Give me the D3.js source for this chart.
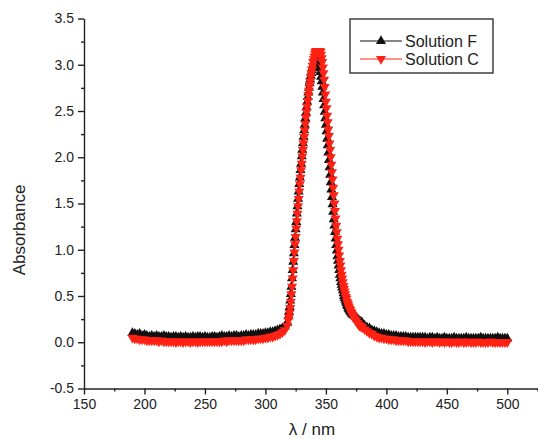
<!DOCTYPE html>
<html>
<head>
<meta charset="utf-8">
<script src="https://cdn.jsdelivr.net/npm/d3@7"></script>
<style>
  body { margin: 0; background: #fff; }
  svg { display: block; font-family: "Liberation Sans", Arial, sans-serif; }
</style>
</head>
<body>
<div class="chart-container"></div>
<script>
// wavelength grid (nm), finer through the absorption band
const wavelengths = [
  190,192,194,196,198,200,202,204,206,208,210,212,214,216,218,220,222,224,226,228,
  230,232,234,236,238,240,242,244,246,248,250,252,254,256,258,260,262,264,266,268,
  270,272,274,276,278,280,282,284,286,288,290,292,294,296,298,300,302,304,306,308,
  310,312,314,316,318,
  319,319.5,320,320.5,321,321.5,322,322.5,323,323.5,
  324,324.5,325,325.5,326,326.5,327,327.5,328,328.5,
  329,329.5,330,330.5,331,331.5,332,332.5,333,333.5,
  334,334.5,335,335.5,336,336.5,337,337.5,338,338.5,
  339,339.5,340,340.5,341,341.5,342,342.5,343,343.5,
  344,344.5,345,345.5,346,346.5,347,347.5,348,348.5,
  349,349.5,350,350.5,351,351.5,352,352.5,353,353.5,
  354,354.5,355,355.5,356,356.5,357,357.5,358,358.5,
  359,359.5,360,360.5,361,361.5,362,362.5,363,363.5,
  364,364.5,365,365.5,366,366.5,367,367.5,368,368.5,
  369,369.5,370,370.5,371,371.5,372,
  373,374,375,376,377,378,379,380,
  382,384,386,388,390,392,394,396,398,400,402,404,406,408,410,412,414,416,418,420,
  422,424,426,428,430,432,434,436,438,440,442,444,446,448,450,452,454,456,458,460,
  462,464,466,468,470,472,474,476,478,480,482,484,486,488,490,492,494,496,498,500
];

const solutionF = [
  0.10,0.09,0.08,0.09,0.07,0.08,0.07,0.06,0.07,0.06,0.07,0.06,0.06,0.07,0.06,0.06,0.05,0.06,0.06,0.05,
  0.06,0.05,0.06,0.05,0.05,0.06,0.05,0.06,0.06,0.05,0.06,0.05,0.05,0.06,0.06,0.05,0.06,0.07,0.06,0.06,
  0.07,0.06,0.07,0.07,0.06,0.07,0.07,0.08,0.07,0.08,0.08,0.08,0.09,0.09,0.09,0.10,0.10,0.11,0.11,0.12,
  0.13,0.14,0.15,0.17,0.21,
  0.28,0.33,0.38,0.45,0.52,0.60,0.69,0.78,0.87,0.96,
  1.05,1.13,1.22,1.30,1.39,1.47,1.55,1.63,1.71,1.78,
  1.86,1.93,2.01,2.08,2.15,2.22,2.29,2.35,2.42,2.48,
  2.54,2.60,2.65,2.70,2.75,2.80,2.84,2.88,2.91,2.94,
  2.97,2.99,3.01,3.03,3.04,3.05,3.06,3.07,3.07,3.06,
  3.03,3.00,2.96,2.92,2.87,2.82,2.76,2.70,2.63,2.56,
  2.49,2.42,2.35,2.28,2.20,2.13,2.05,1.97,1.89,1.81,
  1.73,1.65,1.57,1.49,1.41,1.33,1.26,1.19,1.12,1.05,
  0.99,0.93,0.88,0.83,0.78,0.73,0.69,0.65,0.62,0.59,
  0.56,0.53,0.50,0.48,0.46,0.44,0.42,0.40,0.39,0.37,
  0.36,0.35,0.34,0.33,0.32,0.31,0.30,
  0.29,0.28,0.27,0.25,0.24,0.23,0.22,0.21,
  0.18,0.16,0.15,0.13,0.12,0.11,0.10,0.09,0.09,0.08,0.08,0.07,0.07,0.07,0.06,0.06,0.06,0.06,0.05,0.05,
  0.05,0.05,0.05,0.05,0.05,0.05,0.04,0.05,0.05,0.04,0.05,0.04,0.04,0.05,0.04,0.04,0.04,0.05,0.04,0.04,
  0.04,0.04,0.05,0.04,0.04,0.04,0.04,0.04,0.05,0.04,0.04,0.04,0.04,0.04,0.04,0.05,0.04,0.04,0.04,0.04
];

const solutionC = [
  0.05,0.04,0.04,0.03,0.03,0.03,0.02,0.02,0.02,0.02,0.02,0.01,0.02,0.01,0.01,0.01,0.01,0.01,0.00,0.01,
  0.01,0.00,0.01,0.01,0.00,0.01,0.01,0.00,0.01,0.01,0.01,0.01,0.01,0.01,0.01,0.01,0.01,0.01,0.02,0.01,
  0.02,0.02,0.02,0.02,0.02,0.02,0.02,0.03,0.03,0.03,0.03,0.03,0.04,0.04,0.04,0.05,0.05,0.06,0.06,0.07,
  0.08,0.09,0.11,0.13,0.18,
  0.24,0.27,0.32,0.37,0.44,0.52,0.60,0.69,0.78,0.88,
  0.97,1.06,1.14,1.23,1.31,1.39,1.47,1.55,1.63,1.71,
  1.78,1.86,1.93,2.01,2.08,2.15,2.22,2.29,2.36,2.43,
  2.49,2.55,2.61,2.67,2.72,2.77,2.82,2.87,2.91,2.95,
  2.99,3.03,3.06,3.09,3.12,3.14,3.15,3.15,3.15,3.15,
  3.15,3.15,3.15,3.14,3.11,3.07,3.03,2.97,2.91,2.84,
  2.76,2.68,2.60,2.53,2.45,2.38,2.30,2.23,2.15,2.08,
  2.00,1.92,1.84,1.76,1.67,1.59,1.50,1.42,1.34,1.26,
  1.19,1.12,1.06,1.00,0.94,0.88,0.83,0.78,0.73,0.69,
  0.65,0.61,0.58,0.55,0.52,0.49,0.47,0.44,0.42,0.40,
  0.38,0.36,0.35,0.33,0.32,0.30,0.29,
  0.27,0.25,0.23,0.21,0.19,0.18,0.17,0.16,
  0.14,0.12,0.10,0.09,0.07,0.06,0.05,0.05,0.04,0.04,0.03,0.03,0.03,0.02,0.02,0.02,0.02,0.02,0.01,0.01,
  0.01,0.01,0.01,0.01,0.01,0.00,0.01,0.01,0.00,0.01,0.01,0.00,0.01,0.00,0.01,0.00,0.00,0.01,0.00,0.00,
  0.01,0.00,0.00,0.01,0.00,0.00,0.00,0.01,0.00,0.00,0.00,0.00,0.01,0.00,0.00,0.00,0.00,0.00,0.00,0.00
];

const seriesNames = ["Solution F", "Solution C"];
const seriesColors = ["#111111", "#ff2214"];
const xTicks = [150, 200, 250, 300, 350, 400, 450, 500];
const xMinorTicks = [175, 225, 275, 325, 375, 425, 475, 525];
const yTicks = [-0.5, 0, 0.5, 1, 1.5, 2, 2.5, 3, 3.5];
const yMinorTicks = [-0.25, 0.25, 0.75, 1.25, 1.75, 2.25, 2.75, 3.25];

const width = 538, height = 439;

const x = d3.scaleLinear().domain([150, 550]).range([84, 567.8]);
const y = d3.scaleLinear().domain([-0.5, 3.5]).range([388.5, 18.5]);

const svg = d3.select(".chart-container")
  .append("svg")
  .attr("width", width)
  .attr("height", height);

svg.append("rect").attr("width", width).attr("height", height).attr("fill", "#fff");

// axes
svg.append("g")
  .attr("transform", "translate(0," + y(-0.5) + ")")
  .call(d3.axisBottom(x).tickValues(xTicks).tickSize(6).tickSizeOuter(0).tickPadding(5)
    .tickFormat(d3.format("d")));
svg.append("g")
  .attr("transform", "translate(0," + y(-0.5) + ")")
  .call(d3.axisBottom(x).tickValues(xMinorTicks).tickSize(3).tickSizeOuter(0).tickFormat(""))
  .select(".domain").remove();

svg.append("g")
  .attr("transform", "translate(" + x(150) + ",0)")
  .call(d3.axisLeft(y).tickValues(yTicks).tickSize(6).tickSizeOuter(0).tickPadding(4)
    .tickFormat(d => d.toFixed(1)));
svg.append("g")
  .attr("transform", "translate(" + x(150) + ",0)")
  .call(d3.axisLeft(y).tickValues(yMinorTicks).tickSize(3).tickSizeOuter(0).tickFormat(""))
  .select(".domain").remove();

svg.selectAll(".domain, .tick line")
  .attr("stroke", "#222")
  .attr("stroke-width", 1.4);
svg.selectAll(".tick text")
  .attr("fill", "#222")
  .style("font-size", "14px");

// axis titles
svg.append("text")
  .attr("transform", "translate(19,230) rotate(-90)")
  .attr("text-anchor", "middle")
  .attr("dy", "0.35em")
  .attr("fill", "#222")
  .style("font-size", "17px")
  .text("Absorbance");

svg.append("text")
  .attr("x", 312)
  .attr("y", 435)
  .attr("text-anchor", "middle")
  .attr("fill", "#222")
  .style("font-size", "17px")
  .text("λ / nm");

// series, red drawn last so it sits on top
const series = [
  { name: seriesNames[0], values: solutionF, color: seriesColors[0], rot: 0 },
  { name: seriesNames[1], values: solutionC, color: seriesColors[1], rot: 180 }
];

const triangle = d3.symbol().type(d3.symbolTriangle).size(44);
const line = d3.line()
  .x((d, i) => x(wavelengths[i]))
  .y(d => y(d));

series.forEach(s => {
  const g = svg.append("g");
  g.append("path")
    .datum(s.values)
    .attr("d", line)
    .attr("fill", "none")
    .attr("stroke", s.color)
    .attr("stroke-width", 1);
  g.selectAll("path.mark")
    .data(s.values)
    .enter()
    .append("path")
    .attr("class", "mark")
    .attr("d", triangle)
    .attr("transform", (d, i) =>
      "translate(" + x(wavelengths[i]) + "," + y(d) + ") rotate(" + s.rot + ")")
    .attr("fill", s.color);
});

// legend
const legend = svg.append("g");
legend.append("rect")
  .attr("x", 350).attr("y", 19)
  .attr("width", 143).attr("height", 54)
  .attr("fill", "#fff")
  .attr("stroke", "#333")
  .attr("stroke-width", 1.4);

series.forEach((s, i) => {
  const ly = 41 + i * 18;
  legend.append("line")
    .attr("x1", 360).attr("x2", 402)
    .attr("y1", ly).attr("y2", ly)
    .attr("stroke", s.color).attr("stroke-width", 1);
  legend.append("path")
    .attr("d", triangle)
    .attr("transform", "translate(381," + ly + ") rotate(" + s.rot + ")")
    .attr("fill", s.color);
  legend.append("text")
    .attr("x", 405).attr("y", ly)
    .attr("dy", "0.36em")
    .attr("fill", "#222")
    .style("font-size", "16px")
    .text(s.name);
});
</script>
</body>
</html>
